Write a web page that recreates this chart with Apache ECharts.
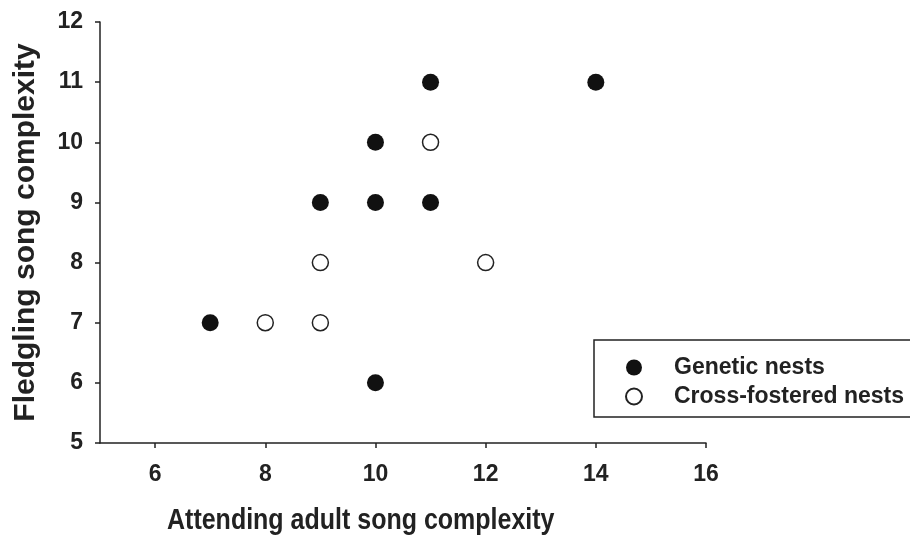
<!DOCTYPE html>
<head>
    <meta charset="utf-8"/>
    <style>
        html,body { height:100%; width:100%; margin:0; padding:0; background:#fff; }
    </style>
</head>
<body>
<div id="scatter" style="width:910px;height:536px;"></div>
<script src="https://cdn.jsdelivr.net/npm/echarts@6/dist/echarts.min.js"></script>
<script type="text/javascript">

 // data: [attending adult, fledgling]
 var geneticNests = [[7, 7], [9, 9], [10, 10], [10, 9], [10, 6], [11, 11], [11, 9], [14, 11]];
 var crossFostered = [[8, 7], [9, 7], [9, 8], [11, 10], [12, 8]];
 var xTicks = [6, 8, 10, 12, 14, 16];
 var seriesNames = ['Genetic nests', 'Cross-fostered nests'];

 var ink = '#222';
 var font = 'Liberation Sans, Arial, sans-serif';

 var myChart = echarts.init(document.getElementById('scatter'));

 var options = {
    animation: false,
    grid: { left: 100, top: 22, right: 204, bottom: 93 },
    legend: {
        data: seriesNames,
        orient: 'vertical',
        left: 625,
        top: 356,
        padding: 0,
        icon: 'circle',
        itemWidth: 16,
        itemHeight: 16,
        itemGap: 6,
        selectedMode: false,
        textStyle: { color: ink, fontSize: 23, fontWeight: 'bold', fontFamily: font, padding: [0, 0, 0, 27] }
    },
    xAxis: {
        type: 'value',
        min: 5,
        max: 16,
        interval: 1,
        splitLine: { show: false },
        axisLine: { onZero: false, lineStyle: { color: ink, width: 1.5 } },
        axisTick: { customValues: xTicks, length: 5, lineStyle: { color: ink, width: 1.5 } },
        axisLabel: { customValues: xTicks, margin: 20, color: ink, fontSize: 23, fontWeight: 'bold', fontFamily: font }
    },
    yAxis: {
        type: 'value',
        min: 5,
        max: 12,
        interval: 1,
        name: 'Fledgling song complexity',
        nameLocation: 'middle',
        nameGap: 59,
        nameTextStyle: { color: ink, fontSize: 30, fontWeight: 'bold', fontFamily: font },
        splitLine: { show: false },
        axisLine: { show: true, onZero: false, lineStyle: { color: ink, width: 1.5 } },
        axisTick: { show: true, length: 5, lineStyle: { color: ink, width: 1.5 } },
        axisLabel: { margin: 17, color: ink, fontSize: 23, fontWeight: 'bold', fontFamily: font }
    },
    graphic: [
        {
            type: 'text',
            x: 167,
            y: 521,
            scaleY: 1.2,
            style: { x: 0, y: 0, text: 'Attending adult song complexity', fill: ink,
                     font: 'bold 25px ' + font, verticalAlign: 'middle' }
        },
        {
            type: 'rect',
            shape: { x: 594, y: 340, width: 340, height: 77 },
            style: { fill: 'none', stroke: ink, lineWidth: 1.5 }
        }
    ],
    series: [
        {
            name: seriesNames[0],
            type: 'scatter',
            symbolSize: 17,
            itemStyle: { color: '#111', opacity: 1 },
            data: geneticNests
        },
        {
            name: seriesNames[1],
            type: 'scatter',
            symbolSize: 16,
            itemStyle: { color: '#fff', borderColor: ink, borderWidth: 1.5, opacity: 1 },
            data: crossFostered
        }
    ]
 };

 myChart.setOption(options);
</script>
</body>
